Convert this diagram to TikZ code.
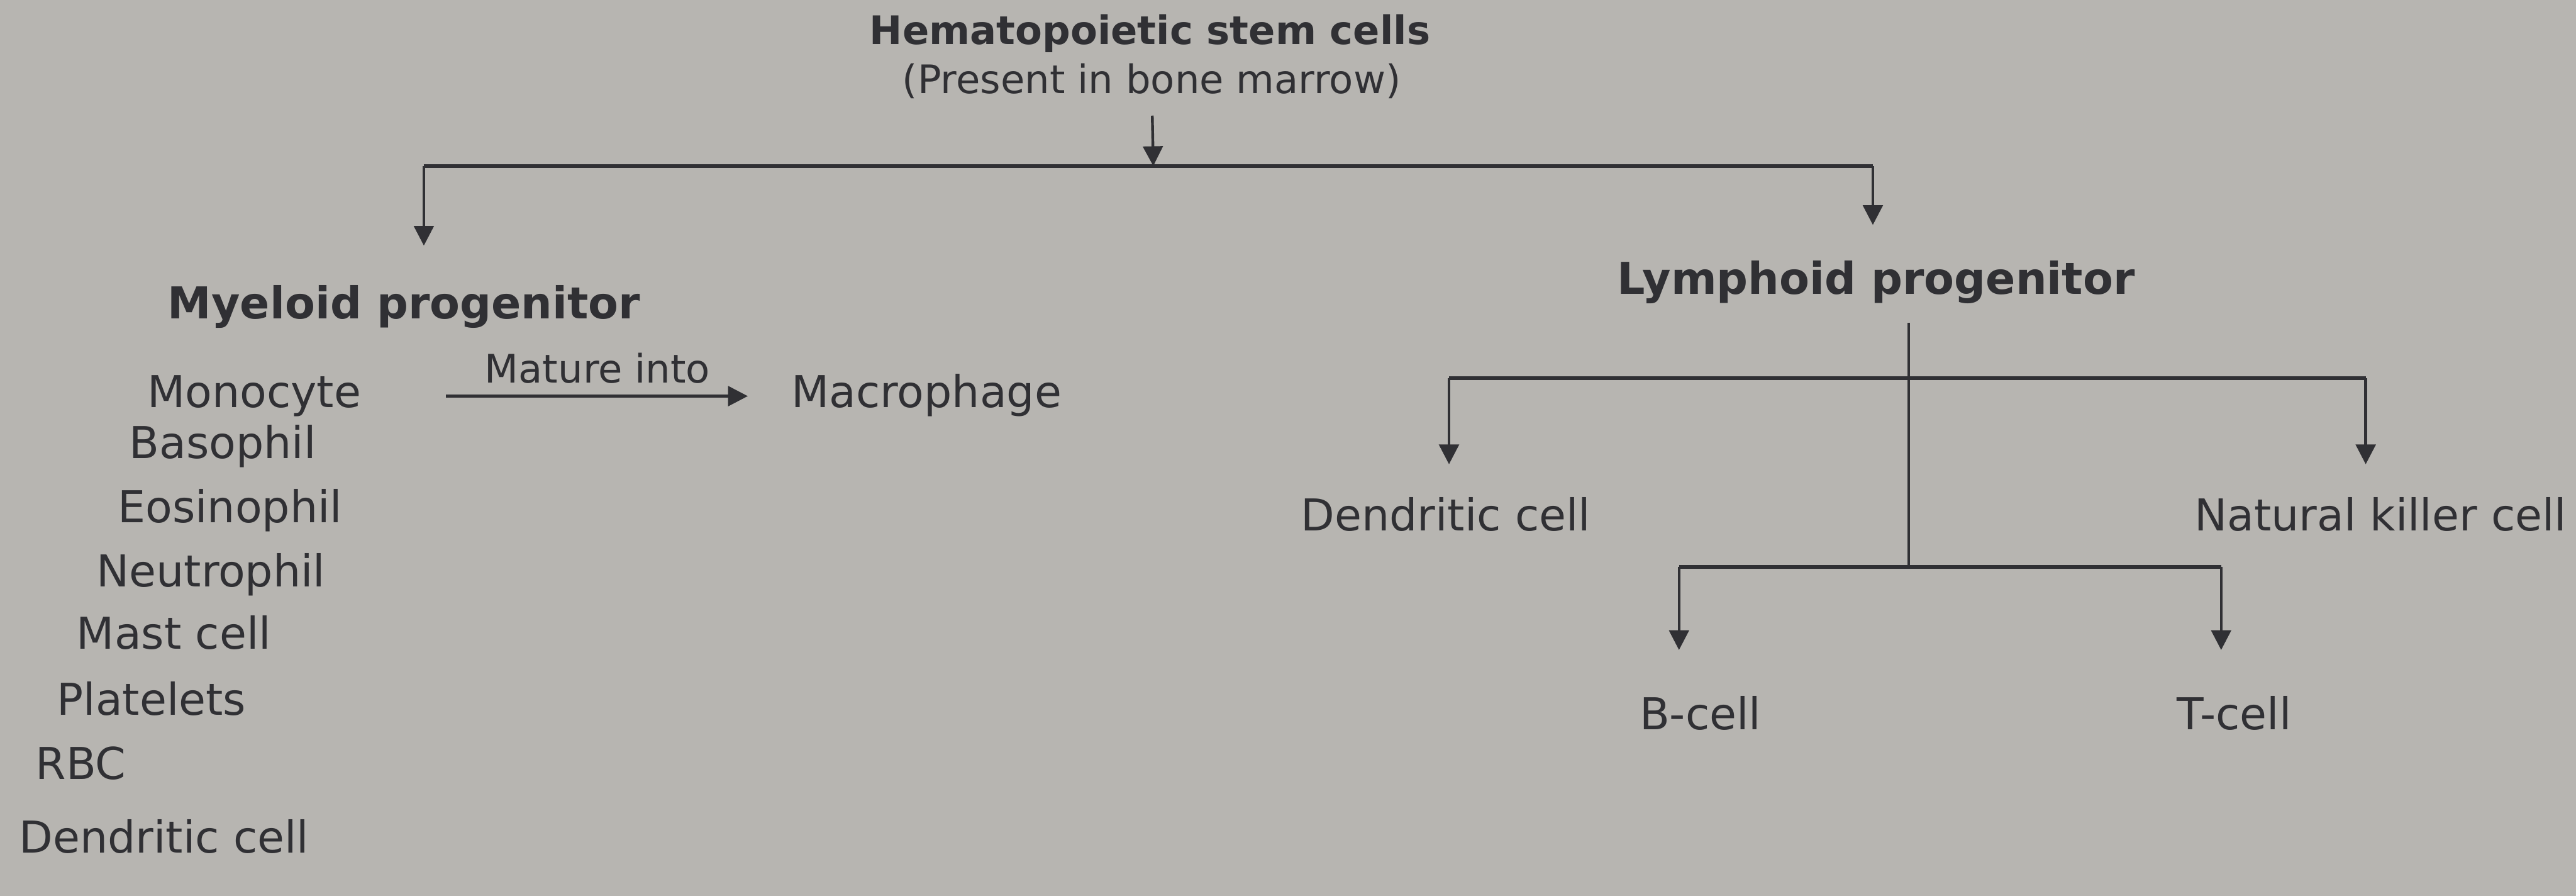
\documentclass[tikz,border=0pt]{standalone}
\usepackage{fontspec}
\setmainfont{DejaVu Sans}
\usetikzlibrary{arrows.meta}
\definecolor{paper}{RGB}{183,181,177}
\definecolor{ink}{RGB}{48,48,52}

\begin{document}
\begin{tikzpicture}[x=0.025cm,y=-0.025cm,
    txt/.style={text=ink,font=\fontsize{19}{22}\selectfont,inner sep=1pt,text height=14pt,text depth=4pt},
    head/.style={txt,font=\fontsize{19}{22}\selectfont\bfseries},
    item/.style={txt,anchor=west},
    bar/.style={draw=ink,line width=1.7pt},
    arr/.style={draw=ink,line width=1.2pt,-{Triangle[length=0.3cm,width=0.3cm]}}]
    % Page
    \fill[paper] (0,0) rectangle (1568,545);

    % Stem cells
    \node[head,font=\fontsize{17}{20}\selectfont\bfseries] (hsc) at (700,20) {Hematopoietic stem cells};
    \node[txt,font=\fontsize{17}{20}\selectfont] (marrow) at (701,50) {(Present in bone marrow)};

    % Progenitors
    \node[head] (myeloid) at (246,187) {Myeloid progenitor};
    \node[head] (lymphoid) at (1142,172) {Lymphoid progenitor};

    % First split
    \coordinate (split) at (702,101);
    \coordinate (mleft) at (258,101);
    \coordinate (lright) at (1140,101);
    \draw[arr,shorten <=0.15cm] (marrow) -- (split);
    \draw[bar] (mleft) -- (lright);
    \draw[arr,shorten >=0.58cm] (mleft) -- (mleft |- myeloid.north);
    \draw[arr,shorten >=0.52cm] (lright) -- (lright |- lymphoid.north);

    % Myeloid cells
    \node[item] (mono) at (88,241) {Monocyte};
    \node[item] (baso) at (77,272) {Basophil};
    \node[item] (eosi) at (70,311) {Eosinophil};
    \node[item] (neut) at (57,350) {Neutrophil};
    \node[item] (mast) at (45,388) {Mast cell};
    \node[item] (plat) at (33,428) {Platelets};
    \node[item] (rbc) at (20,467) {RBC};
    \node[item] (dcm) at (10,512) {Dendritic cell};
    \node[item] (macro) at (480,241) {Macrophage};
    \draw[arr,shorten <=1.25cm,shorten >=0.62cm] (mono.east) -- (macro.west)
        node[pos=0.55,above,txt,font=\fontsize{17}{20}\selectfont] {Mature into};

    % Lymphoid cells
    \node[txt] (dendr) at (880,316) {Dendritic cell};
    \node[txt] (nk) at (1449,316) {Natural killer cell};
    \node[txt] (bcell) at (1035,437) {B-cell};
    \node[txt] (tcell) at (1360,437) {T-cell};

    \coordinate (dleft) at (882,230);
    \coordinate (nright) at (1440,230);
    \coordinate (bt) at (1162,345);
    \coordinate (bleft) at (1022,345);
    \coordinate (tright) at (1352,345);
    \draw[draw=ink,line width=1.1pt,shorten <=0.25cm] (bt |- lymphoid.south) -- (bt);
    \draw[bar] (dleft) -- (nright);
    \draw[arr,shorten >=0.48cm] (dleft) -- (dleft |- dendr.north);
    \draw[arr,shorten >=0.48cm] (nright) -- (nright |- nk.north);
    \draw[bar] (bleft) -- (tright);
    \draw[arr,shorten >=0.68cm] (bleft) -- (bleft |- bcell.north);
    \draw[arr,shorten >=0.68cm] (tright) -- (tright |- tcell.north);
\end{tikzpicture}
\end{document}
